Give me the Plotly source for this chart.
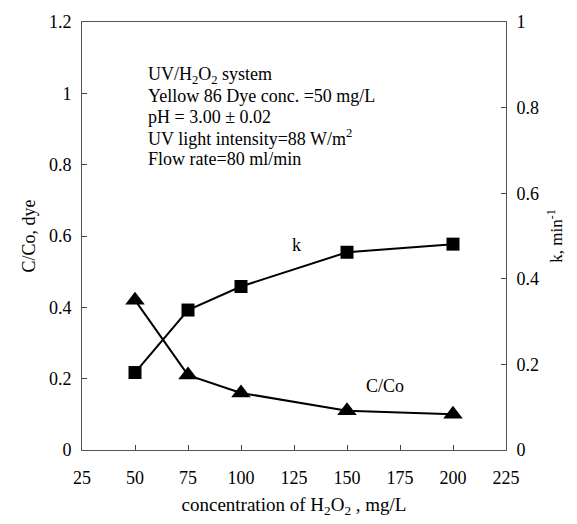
import plotly.graph_objects as go

h2o2 = [50, 75, 100, 150, 200]
c_co = [0.42, 0.21, 0.16, 0.11, 0.10]
k_vals = [0.181, 0.327, 0.382, 0.462, 0.481]

x_ticks = [25, 50, 75, 100, 125, 150, 175, 200, 225]
y_left_ticks = [0, 0.2, 0.4, 0.6, 0.8, 1.0, 1.2]
y_right_ticks = [0, 0.2, 0.4, 0.6, 0.8, 1.0]

info_lines = [
    "UV/H<sub>2</sub>O<sub>2</sub> system",
    "Yellow 86 Dye conc. =50 mg/L",
    "pH = 3.00 \u00b1 0.02",
    "UV light intensity=88 W/m<sup>2</sup>",
    "Flow rate=80 ml/min",
]

FONT = "Liberation Serif"

fig = go.Figure()
fig.add_trace(go.Scatter(
    x=h2o2, y=c_co, mode="lines+markers", name="C/Co",
    line=dict(color="black", width=2),
    marker=dict(symbol="triangle-up", size=17, color="black"),
    yaxis="y", showlegend=False))
fig.add_trace(go.Scatter(
    x=h2o2, y=k_vals, mode="lines+markers", name="k",
    line=dict(color="black", width=2),
    marker=dict(symbol="square", size=13, color="black"),
    yaxis="y2", showlegend=False))

axis_common = dict(showgrid=False, zeroline=False, ticks="inside", ticklen=5,
                   tickcolor="#444", linecolor="#555", linewidth=1,
                   tickfont=dict(family=FONT, size=18, color="black"))

fig.update_layout(
    width=577, height=524,
    margin=dict(l=82, r=71, t=15, b=72),
    paper_bgcolor="white", plot_bgcolor="white",
    font=dict(family=FONT, color="black"),
    xaxis=dict(range=[25, 225], tickvals=x_ticks, showline=True, mirror=True,
               ticklabelstandoff=11,
               title=dict(text="concentration of H<sub>2</sub>O<sub>2</sub> , mg/L",
                          font=dict(family=FONT, size=19), standoff=11),
               **axis_common),
    yaxis=dict(range=[0, 1.2], tickvals=y_left_ticks, showline=True,
               ticklabelstandoff=6,
               ticktext=["0", "0.2", "0.4", "0.6", "0.8", "1", "1.2"],
               title=dict(text="C/Co, dye", font=dict(family=FONT, size=18), standoff=8),
               **axis_common),
    yaxis2=dict(range=[0, 1.0], tickvals=y_right_ticks, overlaying="y", side="right",
                showline=True, ticklabelstandoff=6,
                ticktext=["0", "0.2", "0.4", "0.6", "0.8", "1"],
                title=dict(text="k, min<sup>-1</sup>", font=dict(family=FONT, size=17), standoff=12),
                **axis_common),
)

for i, line in enumerate(info_lines):
    fig.add_annotation(x=0.152, y=0.875 - i * 0.0485, xref="paper", yref="paper", text=line,
                       showarrow=False, xanchor="left", yanchor="middle", align="left",
                       font=dict(family=FONT, size=18, color="black"))
fig.add_annotation(x=126, y=0.48, xref="x", yref="y2", text="k", showarrow=False,
                   font=dict(family=FONT, size=18, color="black"))
fig.add_annotation(x=168, y=0.18, xref="x", yref="y", text="C/Co", showarrow=False,
                   font=dict(family=FONT, size=18, color="black"))

fig.write_html("out.html")
